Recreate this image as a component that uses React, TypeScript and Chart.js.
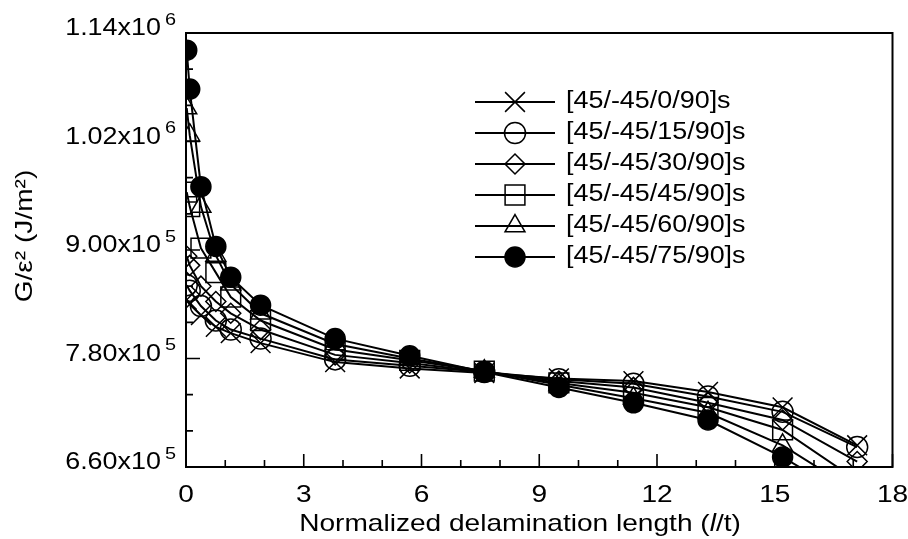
import React, { useEffect, useRef } from "react";
import { Chart, registerables } from "chart.js";
import { drawPoint } from "chart.js/helpers";

Chart.register(...registerables);

// ---- data ----
const xValues = [0.019, 0.095, 0.38, 0.76, 1.14, 1.9, 3.8, 5.7, 7.6, 9.5, 11.4, 13.3, 15.2, 17.1];

const s0 = [845000, 840000, 828000, 815000, 808000, 797000, 776000, 769000, 764000, 758000, 755000, 743000, 726000, 684000];
const s15 = [861000, 855000, 838000, 822000, 812000, 802000, 779000, 772000, 765000, 757000, 752000, 738000, 721000, 682000];
const s30 = [893000, 883000, 860000, 843000, 830000, 812000, 784000, 775000, 765000, 755000, 748000, 731000, 712000, 666000];
const s45 = [964000, 948000, 902000, 875000, 848000, 822000, 790000, 778000, 766000, 753000, 742000, 726000, 701000, 645000];
const s60 = [1057000, 1027000, 948000, 894000, 862000, 830000, 796000, 780000, 766000, 751000, 736000, 720000, 684000, 632000];
const s75 = [1121000, 1078000, 970000, 904000, 870000, 839000, 802000, 783000, 765000, 748000, 731000, 712000, 671000, 622000];

const seriesNames = [
  "[45/-45/0/90]s",
  "[45/-45/15/90]s",
  "[45/-45/30/90]s",
  "[45/-45/45/90]s",
  "[45/-45/60/90]s",
  "[45/-45/75/90]s",
];
const seriesValues = [s0, s15, s30, s45, s60, s75];

const xMajorTicks = [0, 3, 6, 9, 12, 15, 18];
const xMinorTicks = [1, 2, 4, 5, 7, 8, 10, 11, 13, 14, 16, 17];
const xTickLabels = ["0", "3", "6", "9", "12", "15", "18"];

const yMajorTicks = [660000, 780000, 900000, 1020000, 1140000];
const yMinorTicks = [700000, 740000, 820000, 860000, 940000, 980000, 1060000, 1100000];
const yTickMantissa = ["6.60x10", "7.80x10", "9.00x10", "1.02x10", "1.14x10"];
const yTickExponent = ["5", "5", "5", "6", "6"];

const xTitleParts = ["Normalized delamination length (", "l", "/t)"];
const yTitle = "G/\u03b5\u00b2 (J/m\u00b2)";

// ---- styles ----
const FONT = "'Liberation Sans', Arial, Helvetica, sans-serif";
const STRETCH = 1.17;
const markerStyles = [
  { pointStyle: "crossRot", radius: 14, fill: "rgba(0,0,0,0)" },
  { pointStyle: "circle", radius: 10.5, fill: "rgba(0,0,0,0)" },
  { pointStyle: "rectRot", radius: 10, fill: "rgba(0,0,0,0)" },
  { pointStyle: "rect", radius: 14, fill: "rgba(0,0,0,0)" },
  { pointStyle: "triangle", radius: 11.5, fill: "rgba(0,0,0,0)" },
  { pointStyle: "circle", radius: 10, fill: "#000" },
];

function stretchedText(ctx: CanvasRenderingContext2D, text: string, x: number, y: number, align: CanvasTextAlign, baseline: CanvasTextBaseline) {
  ctx.save();
  ctx.translate(x, y);
  ctx.scale(STRETCH, 1);
  ctx.textAlign = align;
  ctx.textBaseline = baseline;
  ctx.fillText(text, 0, 0);
  ctx.restore();
}

const decorPlugin = {
  id: "decor",
  afterDraw(chart: any) {
    const { ctx, chartArea: a, scales } = chart;
    const xs = scales.x;
    const ys = scales.y;
    ctx.save();
    ctx.fillStyle = "#000";
    ctx.strokeStyle = "#000";

    // frame
    ctx.lineWidth = 2;
    ctx.strokeRect(a.left, a.top, a.right - a.left, a.bottom - a.top);

    // ticks (inside)
    ctx.lineWidth = 1.6;
    ctx.beginPath();
    for (const v of xMajorTicks) {
      const px = xs.getPixelForValue(v);
      ctx.moveTo(px, a.bottom);
      ctx.lineTo(px, a.bottom - 13);
    }
    for (const v of xMinorTicks) {
      const px = xs.getPixelForValue(v);
      ctx.moveTo(px, a.bottom);
      ctx.lineTo(px, a.bottom - 7);
    }
    for (const v of yMajorTicks) {
      const py = ys.getPixelForValue(v);
      ctx.moveTo(a.left, py);
      ctx.lineTo(a.left + 14, py);
    }
    for (const v of yMinorTicks) {
      const py = ys.getPixelForValue(v);
      ctx.moveTo(a.left, py);
      ctx.lineTo(a.left + 7, py);
    }
    ctx.stroke();

    // x tick labels
    ctx.font = `24px ${FONT}`;
    xMajorTicks.forEach((v, i) => {
      stretchedText(ctx, xTickLabels[i], xs.getPixelForValue(v), a.bottom + 28, "center", "middle");
    });

    // y tick labels with superscript exponent
    yMajorTicks.forEach((v, i) => {
      const py = ys.getPixelForValue(v) - 4;
      const right = a.left - 10;
      ctx.font = `17px ${FONT}`;
      const we = ctx.measureText(yTickExponent[i]).width * STRETCH;
      stretchedText(ctx, yTickExponent[i], right, py - 9, "right", "middle");
      ctx.font = `23px ${FONT}`;
      stretchedText(ctx, yTickMantissa[i], right - we - 4, py, "right", "middle");
    });

    // x title with italic l
    const fonts = [`24px ${FONT}`, `italic 24px ${FONT}`, `24px ${FONT}`];
    const widths = xTitleParts.map((t, i) => {
      ctx.font = fonts[i];
      return ctx.measureText(t).width * STRETCH;
    });
    const total = widths.reduce((p, c) => p + c, 0);
    let cx = 520 - total / 2;
    xTitleParts.forEach((t, i) => {
      ctx.font = fonts[i];
      stretchedText(ctx, t, cx, a.bottom + 64, "left", "alphabetic");
      cx += widths[i];
    });

    // y title
    ctx.save();
    ctx.translate(25, 236);
    ctx.rotate(-Math.PI / 2);
    ctx.font = `24px ${FONT}`;
    stretchedText(ctx, yTitle, 0, 0, "center", "middle");
    ctx.restore();

    // legend
    const rowY0 = 102;
    const rowGap = 31;
    chart.data.datasets.forEach((ds: any, i: number) => {
      const y = rowY0 + i * rowGap;
      ctx.lineWidth = 1.8;
      ctx.strokeStyle = "#000";
      ctx.beginPath();
      ctx.moveTo(475, y);
      ctx.lineTo(555, y);
      ctx.stroke();
      ctx.lineWidth = 1.5;
      ctx.fillStyle = ds.pointBackgroundColor;
      drawPoint(ctx, { pointStyle: ds.pointStyle, radius: ds.pointRadius, rotation: 0, borderWidth: 1.5 }, 515, y);
      ctx.fillStyle = "#000";
      ctx.font = `23px ${FONT}`;
      stretchedText(ctx, ds.label, 566, y, "left", "middle");
    });

    ctx.restore();
  },
};

export default function App() {
  const canvasRef = useRef<HTMLCanvasElement | null>(null);

  useEffect(() => {
    if (!canvasRef.current) return;
    const datasets = seriesValues.map((vals, i) => ({
      label: seriesNames[i],
      data: xValues.map((x, j) => ({ x, y: vals[j] })),
      borderColor: "#000",
      borderWidth: 2,
      pointStyle: markerStyles[i].pointStyle,
      pointRadius: markerStyles[i].radius,
      pointHoverRadius: markerStyles[i].radius,
      pointBorderWidth: 1.5,
      pointBorderColor: "#000",
      pointBackgroundColor: markerStyles[i].fill,
      backgroundColor: markerStyles[i].fill,
      fill: false,
      tension: 0,
    }));

    const chart = new Chart(canvasRef.current, {
      type: "line",
      data: { datasets },
      options: {
        animation: false,
        responsive: true,
        maintainAspectRatio: false,
        layout: { padding: { left: 186, right: 15, top: 33, bottom: 72 } },
        plugins: { legend: { display: false }, tooltip: { enabled: false } },
        scales: {
          x: {
            type: "linear",
            min: 0,
            max: 18,
            ticks: { display: false },
            grid: { display: false },
            border: { display: false },
            afterFit: (s: any) => {
              s.height = 0;
            },
          },
          y: {
            type: "linear",
            min: 660000,
            max: 1140000,
            ticks: { display: false },
            grid: { display: false },
            border: { display: false },
            afterFit: (s: any) => {
              s.width = 0;
            },
          },
        },
      },
      plugins: [decorPlugin],
    } as any);

    return () => chart.destroy();
  }, []);

  return (
    <div style={{ position: "fixed", left: 0, top: 0, width: 908, height: 539, background: "#fff" }}>
      <canvas ref={canvasRef} />
    </div>
  );
}
